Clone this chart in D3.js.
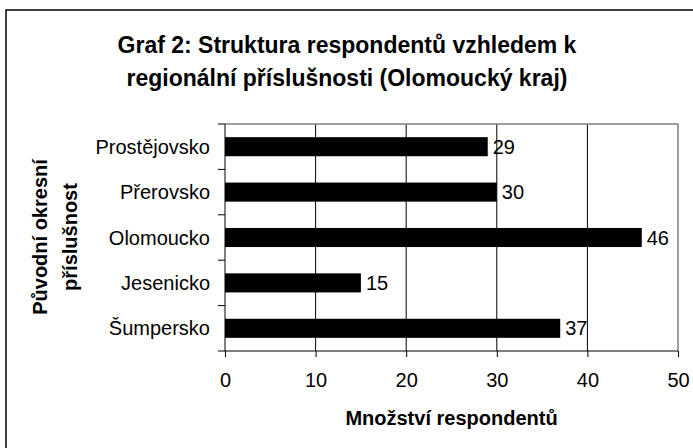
<!DOCTYPE html>
<html>
<head>
<meta charset="utf-8">
<script src="https://cdn.jsdelivr.net/npm/d3@7"></script>
<style>
  body { margin: 0; background: #fff; }
  text { font-family: "Liberation Sans", Arial, sans-serif; fill: #000; }
</style>
</head>
<body>
<div id="chart"></div>
<script>
// data
var regions = ["Prostějovsko", "Přerovsko", "Olomoucko", "Jesenicko", "Šumpersko"];
var counts = [29, 30, 46, 15, 37];
var xTicks = [0, 10, 20, 30, 40, 50];
var titleLines = ["Graf 2: Struktura respondentů vzhledem k", "regionální příslušnosti (Olomoucký kraj)"];
var yTitleLines = ["Původní okresní", "příslušnost"];
var xTitle = "Množství respondentů";

var width = 693;
var height = 448;

var svg = d3
  .select("#chart")
  .append("svg")
  .attr("width", width)
  .attr("height", height);

// outer frame (only top and left edge are inside the picture)
svg
  .append("rect")
  .attr("x", 6)
  .attr("y", 10)
  .attr("width", 900)
  .attr("height", 900)
  .attr("fill", "none")
  .attr("stroke", "#000")
  .attr("stroke-width", 1.5);

var pLeft = 225, pRight = 678, pTop = 124, pBottom = 351;

var xS = d3.scaleLinear().domain([0, 50]).range([pLeft, pRight]);
var yS = d3
  .scaleBand()
  .domain(regions)
  .range([pTop, pBottom])
  .paddingInner(0.58)
  .paddingOuter(0.29);

// gridlines
svg
  .selectAll("line.grid")
  .data(xTicks.slice(1, -1))
  .enter()
  .append("line")
  .attr("class", "grid")
  .attr("x1", function(d) { return xS(d); })
  .attr("x2", function(d) { return xS(d); })
  .attr("y1", pTop)
  .attr("y2", pBottom)
  .attr("stroke", "#000")
  .attr("stroke-width", 1);

// plot border (top, right)
svg
  .append("path")
  .attr("d", "M" + pLeft + "," + pTop + "H" + pRight + "V" + pBottom)
  .attr("fill", "none")
  .attr("stroke", "#808080")
  .attr("stroke-width", 1.5);

// bars
svg
  .selectAll("rect.bar")
  .data(regions)
  .enter()
  .append("rect")
  .attr("class", "bar")
  .attr("x", xS(0))
  .attr("y", function(d) { return yS(d); })
  .attr("width", function(d, i) { return xS(counts[i]) - xS(0); })
  .attr("height", yS.bandwidth())
  .attr("fill", "#000");

// value labels
svg
  .selectAll("text.val")
  .data(regions)
  .enter()
  .append("text")
  .attr("class", "val")
  .attr("x", function(d, i) { return xS(counts[i]) + 5; })
  .attr("y", function(d) { return yS(d) + yS.bandwidth() / 2; })
  .attr("dy", "0.35em")
  .attr("font-size", 20)
  .text(function(d, i) { return counts[i]; });

// x axis
var xAxis = d3
  .axisBottom(xS)
  .tickValues(xTicks)
  .tickSize(6)
  .tickPadding(16);
var gx = svg
  .append("g")
  .attr("transform", "translate(0," + pBottom + ")")
  .call(xAxis);
gx.select(".domain").attr("stroke", "#000").attr("d", "M" + pLeft + ",0H" + pRight);
gx.selectAll(".tick line").attr("stroke", "#000");
gx.selectAll(".tick text")
  .attr("font-size", 20)
  .attr("font-family", "Liberation Sans, Arial, sans-serif")
  .attr("fill", "#000");

// y axis: ticks between categories
var step = yS.step();
var bounds = d3.range(regions.length + 1).map(function(i) { return pTop + i * step; });
svg
  .append("line")
  .attr("x1", pLeft)
  .attr("x2", pLeft)
  .attr("y1", pTop)
  .attr("y2", pBottom)
  .attr("stroke", "#000");
svg
  .selectAll("line.ytick")
  .data(bounds)
  .enter()
  .append("line")
  .attr("class", "ytick")
  .attr("x1", pLeft - 7)
  .attr("x2", pLeft)
  .attr("y1", function(d) { return d; })
  .attr("y2", function(d) { return d; })
  .attr("stroke", "#000");

svg
  .selectAll("text.cat")
  .data(regions)
  .enter()
  .append("text")
  .attr("class", "cat")
  .attr("x", 210)
  .attr("y", function(d) { return yS(d) + yS.bandwidth() / 2; })
  .attr("dy", "0.35em")
  .attr("text-anchor", "end")
  .attr("font-size", 20)
  .text(function(d) { return d; });

// title
svg
  .selectAll("text.title")
  .data(titleLines)
  .enter()
  .append("text")
  .attr("class", "title")
  .attr("x", 347)
  .attr("y", function(d, i) { return 53 + i * 33; })
  .attr("text-anchor", "middle")
  .attr("font-size", 23)
  .attr("font-weight", "bold")
  .text(function(d) { return d; });

// axis titles
svg
  .append("text")
  .attr("x", (pLeft + pRight) / 2)
  .attr("y", 425)
  .attr("text-anchor", "middle")
  .attr("font-size", 20)
  .attr("font-weight", "bold")
  .text(xTitle);

svg
  .selectAll("text.ytitle")
  .data(yTitleLines)
  .enter()
  .append("text")
  .attr("class", "ytitle")
  .attr("transform", function(d, i) {
    return "translate(" + (40 + i * 30) + "," + 237 + ")rotate(-90)";
  })
  .attr("dy", "0.35em")
  .attr("text-anchor", "middle")
  .attr("font-size", 20)
  .attr("font-weight", "bold")
  .text(function(d) { return d; });
</script>
</body>
</html>
